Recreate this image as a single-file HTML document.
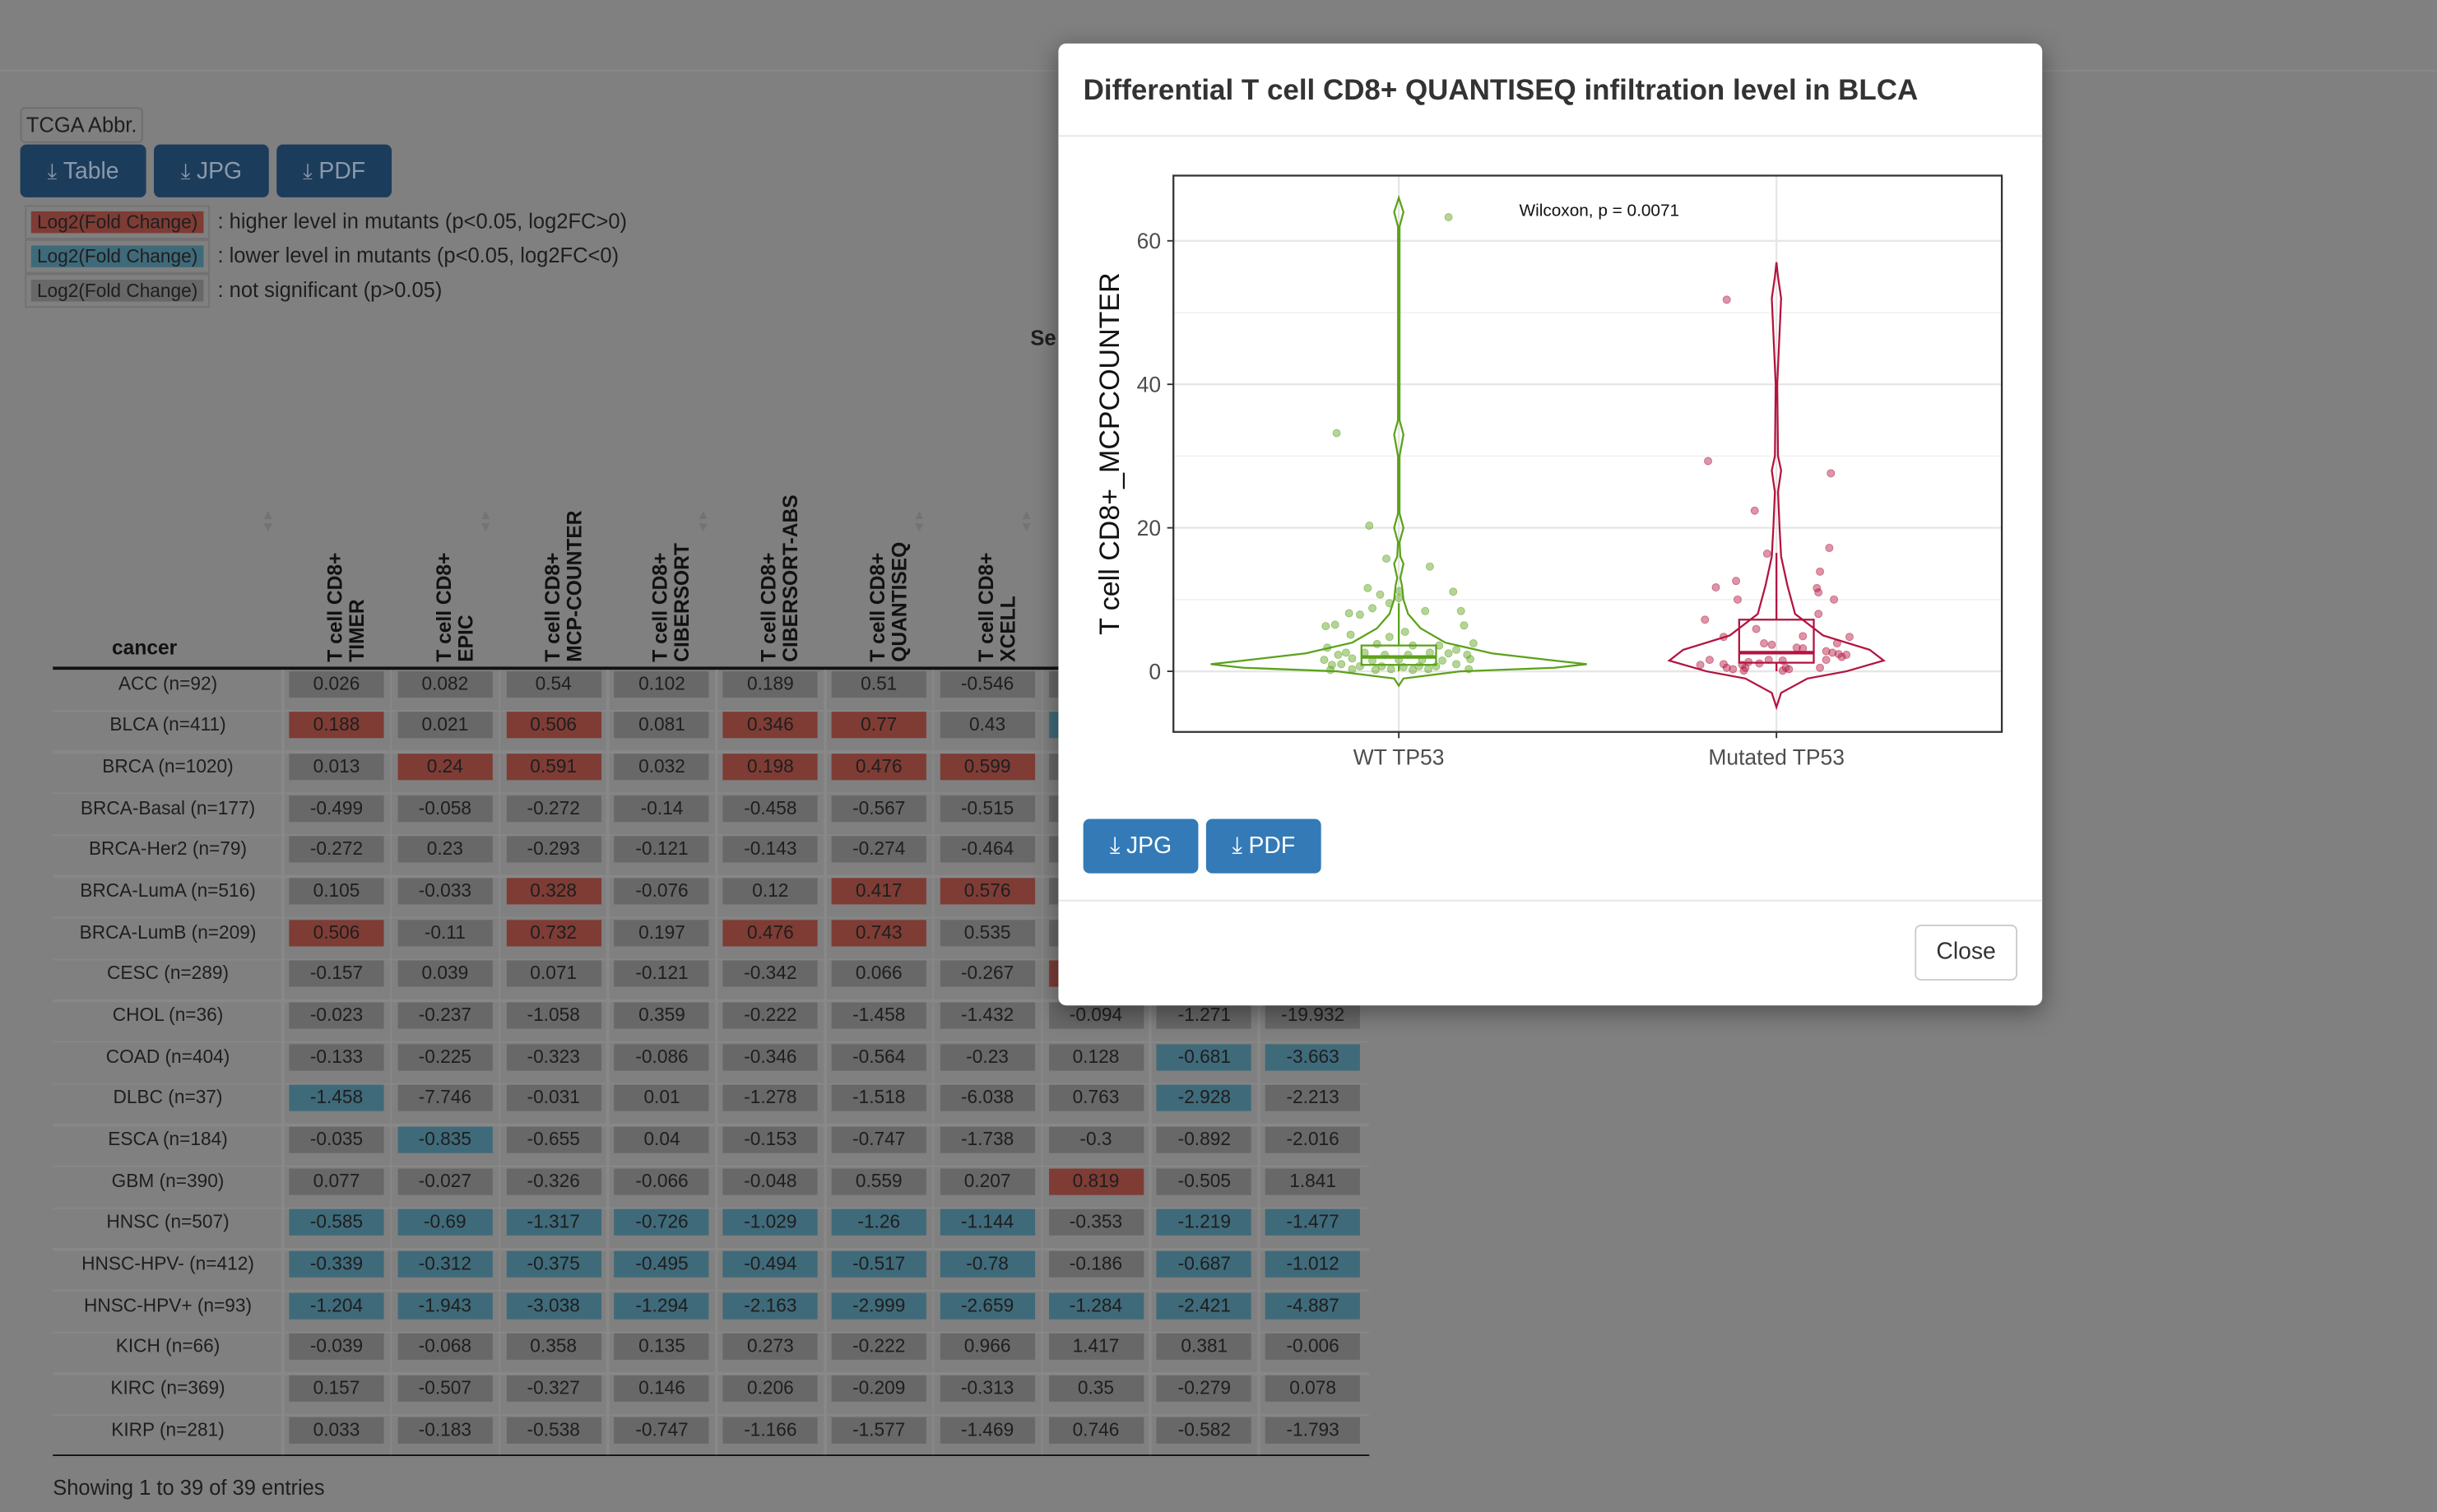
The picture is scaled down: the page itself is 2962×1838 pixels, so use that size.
<!DOCTYPE html>
<html><head><meta charset="utf-8">
<style>
html,body{margin:0;padding:0;width:2962px;height:1838px;overflow:hidden;background:#808080;}
#wrap{position:absolute;left:0;top:0;width:1568px;height:973px;transform:scale(1.88903);transform-origin:0 0;font-family:"Liberation Sans",sans-serif;color:#222;}
.abs{position:absolute;}
.btn{position:absolute;border-radius:4px;color:#8a9aaa;font-size:15px;display:flex;align-items:center;justify-content:center;box-sizing:border-box;}
.cell{position:absolute;width:61px;height:17px;font-size:12px;line-height:17px;text-align:center;color:#1e1e1e;}
.rl{position:absolute;font-size:12px;text-align:center;width:148px;left:34px;color:#1e1e1e;}
.hd{position:absolute;font-weight:bold;font-size:13px;line-height:14px;transform:rotate(-90deg);transform-origin:0 0;white-space:nowrap;color:#111;}
.arr{position:absolute;color:#737373;font-size:9px;line-height:8px;}
</style></head><body>
<div id="wrap">
<div class="abs" style="left:0;top:45px;width:1568px;height:1px;background:#888;"></div>
<div class="abs" style="left:13px;top:69px;width:79px;height:23px;border:1px solid #6e6e6e;border-radius:3px;box-sizing:border-box;font-size:13.5px;line-height:21px;text-align:center;color:#1e1e1e;">TCGA Abbr.</div>
<div class="btn" style="left:13px;top:93px;width:81px;height:34px;background:#1c3c5c;"><span style="font-size:14px;margin-right:4px">⤓</span>Table</div>
<div class="btn" style="left:99px;top:93px;width:74px;height:34px;background:#1c3c5c;"><span style="font-size:14px;margin-right:4px">⤓</span>JPG</div>
<div class="btn" style="left:178px;top:93px;width:74px;height:34px;background:#1c3c5c;"><span style="font-size:14px;margin-right:4px">⤓</span>PDF</div>

<div class="abs" style="left:16px;top:132px;width:119px;height:22px;border:1px solid #727272;box-sizing:border-box;"><div style="margin:3px 3px;height:14px;background:#7e3c35;font-size:12px;line-height:14px;text-align:center;color:#1e1e1e">Log2(Fold Change)</div></div>
<div class="abs" style="left:140px;top:135px;font-size:13.5px;color:#1e1e1e">: higher level in mutants (p&lt;0.05, log2FC&gt;0)</div>
<div class="abs" style="left:16px;top:154px;width:119px;height:22px;border:1px solid #727272;box-sizing:border-box;"><div style="margin:3px 3px;height:14px;background:#3f6a7a;font-size:12px;line-height:14px;text-align:center;color:#1e1e1e">Log2(Fold Change)</div></div>
<div class="abs" style="left:140px;top:157px;font-size:13.5px;color:#1e1e1e">: lower level in mutants (p&lt;0.05, log2FC&lt;0)</div>
<div class="abs" style="left:16px;top:176px;width:119px;height:22px;border:1px solid #727272;box-sizing:border-box;"><div style="margin:3px 3px;height:14px;background:#686868;font-size:12px;line-height:14px;text-align:center;color:#1e1e1e">Log2(Fold Change)</div></div>
<div class="abs" style="left:140px;top:179px;font-size:13.5px;color:#1e1e1e">: not significant (p&gt;0.05)</div>
<div class="abs" style="left:663px;top:210px;font-size:13.5px;font-weight:bold;color:#1e1e1e">Se</div>

<div class="abs" style="left:72px;top:409px;font-size:13px;font-weight:bold;color:#111">cancer</div>
<div class="abs" style="left:34px;top:429px;width:847px;height:2px;background:#111"></div>
<div class="abs" style="left:34px;top:936px;width:847px;height:1.5px;background:#111"></div>
<div class="abs" style="left:34px;top:950px;font-size:13.5px;color:#1e1e1e">Showing 1 to 39 of 39 entries</div>
<div id="table"></div>

<div class="abs" style="left:681px;top:28px;width:633px;height:619px;background:#fff;border-radius:5px;box-shadow:0 4px 16px rgba(0,0,0,0.4);">
  <div class="abs" style="left:16px;top:19px;font-size:18.5px;font-weight:bold;color:#333;">Differential T cell CD8+ QUANTISEQ infiltration level in BLCA</div>
  <div class="abs" style="left:0;top:59px;width:633px;height:1px;background:#e5e5e5"></div>
  <div class="abs" style="left:0;top:551px;width:633px;height:1px;background:#e5e5e5"></div>
  <div class="abs" style="left:16px;top:499px;width:74px;height:35px;background:#337ab7;border-radius:4px;color:#fff;font-size:15px;display:flex;align-items:center;justify-content:center;"><span style="margin-right:4px">⤓</span>JPG</div>
  <div class="abs" style="left:95px;top:499px;width:74px;height:35px;background:#337ab7;border-radius:4px;color:#fff;font-size:15px;display:flex;align-items:center;justify-content:center;"><span style="margin-right:4px">⤓</span>PDF</div>
  <div class="abs" style="left:551px;top:567px;width:66px;height:36px;border:1px solid #ccc;border-radius:4px;box-sizing:border-box;font-size:15px;line-height:34px;text-align:center;color:#333;">Close</div>
</div>
<svg id="plot" class="abs" style="left:681px;top:87px" width="633" height="440" viewBox="681 87 633 440"></svg>
</div>
<script>
// ---------- table data ----------
const rowLabels=["ACC (n=92)","BLCA (n=411)","BRCA (n=1020)","BRCA-Basal (n=177)","BRCA-Her2 (n=79)","BRCA-LumA (n=516)","BRCA-LumB (n=209)","CESC (n=289)","CHOL (n=36)","COAD (n=404)","DLBC (n=37)","ESCA (n=184)","GBM (n=390)","HNSC (n=507)","HNSC-HPV- (n=412)","HNSC-HPV+ (n=93)","KICH (n=66)","KIRC (n=369)","KIRP (n=281)"];
const colHeaders=[["T cell CD8+","TIMER"],["T cell CD8+","EPIC"],["T cell CD8+","MCP-COUNTER"],["T cell CD8+","CIBERSORT"],["T cell CD8+","CIBERSORT-ABS"],["T cell CD8+","QUANTISEQ"],["T cell CD8+","XCELL"]];
const values=[
["0.026","0.082","0.54","0.102","0.189","0.51","-0.546","","",""],
["0.188","0.021","0.506","0.081","0.346","0.77","0.43","","",""],
["0.013","0.24","0.591","0.032","0.198","0.476","0.599","","",""],
["-0.499","-0.058","-0.272","-0.14","-0.458","-0.567","-0.515","","",""],
["-0.272","0.23","-0.293","-0.121","-0.143","-0.274","-0.464","","",""],
["0.105","-0.033","0.328","-0.076","0.12","0.417","0.576","","",""],
["0.506","-0.11","0.732","0.197","0.476","0.743","0.535","","",""],
["-0.157","0.039","0.071","-0.121","-0.342","0.066","-0.267","","",""],
["-0.023","-0.237","-1.058","0.359","-0.222","-1.458","-1.432","-0.094","-1.271","-19.932"],
["-0.133","-0.225","-0.323","-0.086","-0.346","-0.564","-0.23","0.128","-0.681","-3.663"],
["-1.458","-7.746","-0.031","0.01","-1.278","-1.518","-6.038","0.763","-2.928","-2.213"],
["-0.035","-0.835","-0.655","0.04","-0.153","-0.747","-1.738","-0.3","-0.892","-2.016"],
["0.077","-0.027","-0.326","-0.066","-0.048","0.559","0.207","0.819","-0.505","1.841"],
["-0.585","-0.69","-1.317","-0.726","-1.029","-1.26","-1.144","-0.353","-1.219","-1.477"],
["-0.339","-0.312","-0.375","-0.495","-0.494","-0.517","-0.78","-0.186","-0.687","-1.012"],
["-1.204","-1.943","-3.038","-1.294","-2.163","-2.999","-2.659","-1.284","-2.421","-4.887"],
["-0.039","-0.068","0.358","0.135","0.273","-0.222","0.966","1.417","0.381","-0.006"],
["0.157","-0.507","-0.327","0.146","0.206","-0.209","-0.313","0.35","-0.279","0.078"],
["0.033","-0.183","-0.538","-0.747","-1.166","-1.577","-1.469","0.746","-0.582","-1.793"]];
const sig=["gggggggggg","rgrgrrgbgg","grrgrrrggg","gggggggggg","gggggggggg","ggrggrrggg","rgrgrrgggg","gggggggrgg",
"gggggggggg","ggggggggbb","bgggggggbg","gbgggggggg","gggggggrgg","bbbbbbbgbb","bbbbbbbgbb","bbbbbbbbbb","gggggggggg","gggggggggg","gggggggggg"];
const colorMap={g:"#686868",r:"#7e3c35",b:"#3f6a7a"};
const T=document.getElementById('table');
const colX=i=>186+i*69.8, rowY=j=>431.5+j*26.67;
rowLabels.forEach((lab,j)=>{
  const sep=document.createElement('div');sep.className='abs';
  sep.style.cssText=`left:34px;top:${rowY(j)+25}px;width:847px;height:1.5px;background:#888`;
  T.appendChild(sep);
  const d=document.createElement('div');d.className='rl';d.style.top=(rowY(j)+1)+'px';d.textContent=lab;
  
  
  T.appendChild(d);
  values[j].forEach((v,i)=>{
    const c=document.createElement('div');c.className='cell';
    c.style.left=colX(i)+'px';c.style.top=rowY(j)+'px';
    c.style.background=colorMap[sig[j][i]]||'#686868';c.textContent=v;
    
    
    T.appendChild(c);
  });
});
for(let i=0;i<10;i++){const s=document.createElement('div');s.className='abs';s.style.cssText=`left:${colX(i)-5}px;top:431px;width:1.5px;height:505px;background:#888`;T.appendChild(s);}
colHeaders.forEach((h,i)=>{
  const d=document.createElement('div');d.className='hd';
  d.style.left=(colX(i)+23)+'px';d.style.top='426px';
  d.innerHTML=h[0]+'<br>'+h[1];
  
  
  T.appendChild(d);
});
[172,312,452,591,660].forEach(x=>{const a=document.createElement('div');a.className='arr';a.style.left=(x-4)+'px';a.style.top='327px';a.innerHTML='▲<br>▼';
  
  
  T.appendChild(a);});
// ---------- plot data ----------
const groups=["WT TP53","Mutated TP53"];
const yTicks=[0,20,40,60];
const yMinor=[10,30,50];
const wtViolinV=[-2,-1,0,0.5,1,1.5,2.5,4,6,8,10,12,13,15,16,18,20,22,30,33,35,62,64,66];
const wtViolinW=[0,3,40,100,121,100,60,30,14,6,3,2,1,3,1,0.5,3,0.5,0.5,3,0.5,0.5,3,0];
const mtViolinV=[-5,-3,-1,0,1.5,3,5,8,12,16,20,25,28,30,40,52,55,57];
const mtViolinW=[0,3,20,45,69,60,30,12,7,3,2,1,3,1,0.5,3,1,0];
const wtBox=[0,0.9,2,3.6,9.5];
const mtBox=[0,1.2,2.6,7.2,16.5];
const wtPtsV=[63.3,33.2,20.3,15.7,14.6,11.6,11.1,10.7,10.2,8.4,8.1,7.9,8.4,8.8,6.3,6.5,6.4,5.1,4.8,5.5,3.9,3.6,3.3,3.0,2.3,2.6,2.6,2.3,2.3,2.6,2.5,2.3,1.6,1.8,1.5,1.6,1.6,1.5,1.7,0.9,1.0,0.7,0.7,0.6,0.7,0.7,1.0,0.2,0.3,0.2,0.3,0.2,0.3,0.3,9.5,11.2,3.8,3.6];
const wtPtsJ=[32,-40,-19,-8,20,-20,35,-12,0,40,-32,-25,17,-17,-47,-41,42,-31,-6,4,48,26,-46,37,-39,-34,-22,-9,6,20,32,44,-48,-30,-17,0,15,28,46,-43,-37,-25,-11,3,13,24,37,-44,-30,-15,-5,9,19,45,-6,0.5,-14,9];
const mtPtsV=[51.8,29.3,27.6,22.4,17.2,16.4,13.9,12.6,11.7,11.6,11,10,10,8,7.2,5.9,4.9,4.8,4.8,3.9,3.7,3.9,3.3,3.2,2.6,2.4,2.3,2.8,1.6,1.3,1.6,1.5,1.6,2.0,1.0,0.9,1.1,0.5,0.3,0.5,0.5,0.5,0.9,0.1,0.1,0.3];
const mtPtsJ=[-32,-44,35,-14,34,-6,28,-26,-39,26,27,-25,37,27,-46,-13,17,-34,47,-8,-3,39,13,17,36,40,45,32,-43,-18,-5,4,32,42,-34,-22,-11,-32,-28,-20,6,28,-49,-21,4,8];
// ---------- drawing ----------
const NS='http://www.w3.org/2000/svg',S=document.getElementById('plot');
const P={l:755,r:1288,t:113,b:471};
const yS=v=>432-v*4.617;
const xS=i=>[900,1143][i];
function el(tag,attrs,name,inter){const e=document.createElementNS(NS,tag);for(const k in attrs)e.setAttribute(k,attrs[k]);
  
  
  S.appendChild(e);return e;}
el('rect',{x:P.l,y:P.t,width:P.r-P.l,height:P.b-P.t,fill:'#fff'},'plot-panel');
yMinor.forEach(v=>el('line',{x1:P.l,x2:P.r,y1:yS(v),y2:yS(v),stroke:'#f0f0f0','stroke-width':0.8},'minor-gridline'));
yTicks.forEach(v=>el('line',{x1:P.l,x2:P.r,y1:yS(v),y2:yS(v),stroke:'#e6e6e6','stroke-width':1.2},'major-gridline'));
groups.forEach((g,i)=>el('line',{x1:xS(i),x2:xS(i),y1:P.t,y2:P.b,stroke:'#e6e6e6','stroke-width':1.2},'x-gridline'));
function violin(vals,ws,cx,col,name){
  let d='';vals.forEach((v,k)=>{d+=(k?'L':'M')+(cx+ws[k])+','+yS(v);});
  for(let k=vals.length-1;k>=0;k--)d+='L'+(cx-ws[k])+','+yS(vals[k]);
  el('path',{d:d+'Z',fill:'none',stroke:col,'stroke-width':1.2},name);
}
function box(b,cx,col,name){
  el('line',{x1:cx,x2:cx,y1:yS(b[0]),y2:yS(b[1]),stroke:col,'stroke-width':1.2},name+'-whisker-low');
  el('line',{x1:cx,x2:cx,y1:yS(b[3]),y2:yS(b[4]),stroke:col,'stroke-width':1.2},name+'-whisker-high');
  el('rect',{x:cx-24,y:yS(b[3]),width:48,height:yS(b[1])-yS(b[3]),fill:'none',stroke:col,'stroke-width':1.2},name+'-box');
  el('line',{x1:cx-24,x2:cx+24,y1:yS(b[2]),y2:yS(b[2]),stroke:col,'stroke-width':2.2},name+'-median');
}
function pts(V,J,cx,col,name){V.forEach((v,k)=>el('circle',{cx:cx+J[k],cy:yS(v),r:2.4,fill:col,'fill-opacity':0.45,stroke:col,'stroke-opacity':0.5,'stroke-width':0.5},name));}
const cols=['#5ba21b','#b3133f'];
violin(wtViolinV,wtViolinW,xS(0),cols[0],'wt-violin');
violin(mtViolinV,mtViolinW,xS(1),cols[1],'mutated-violin');
box(wtBox,xS(0),cols[0],'wt');
box(mtBox,xS(1),cols[1],'mutated');
pts(wtPtsV,wtPtsJ,xS(0),cols[0],'wt-point');
pts(mtPtsV,mtPtsJ,xS(1),cols[1],'mutated-point');
el('rect',{x:P.l,y:P.t,width:P.r-P.l,height:P.b-P.t,fill:'none',stroke:'#333','stroke-width':1.2},'plot-border');
yTicks.forEach(v=>{el('line',{x1:P.l-4,x2:P.l,y1:yS(v),y2:yS(v),stroke:'#333','stroke-width':1},'y-tick');
  const t=el('text',{x:P.l-8,y:yS(v)+5,'text-anchor':'end','font-size':14,fill:'#4d4d4d','font-family':'Liberation Sans, sans-serif'},'y-tick-label');t.textContent=v;});
groups.forEach((g,i)=>{el('line',{x1:xS(i),x2:xS(i),y1:P.b,y2:P.b+4,stroke:'#333','stroke-width':1},'x-tick');
  const t=el('text',{x:xS(i),y:P.b+21,'text-anchor':'middle','font-size':14,fill:'#4d4d4d','font-family':'Liberation Sans, sans-serif'},'x-tick-label');t.textContent=g;});
const yt=el('text',{x:0,y:0,transform:'translate(720,292) rotate(-90)','text-anchor':'middle','font-size':18,fill:'#111','font-family':'Liberation Sans, sans-serif'},'y-axis-title');yt.textContent='T cell CD8+_MCPCOUNTER';
const wt=el('text',{x:1029,y:139,'text-anchor':'middle','font-size':11,fill:'#111','font-family':'Liberation Sans, sans-serif'},'wilcoxon-annotation');wt.textContent='Wilcoxon, p = 0.0071';
</script>
</body></html>
